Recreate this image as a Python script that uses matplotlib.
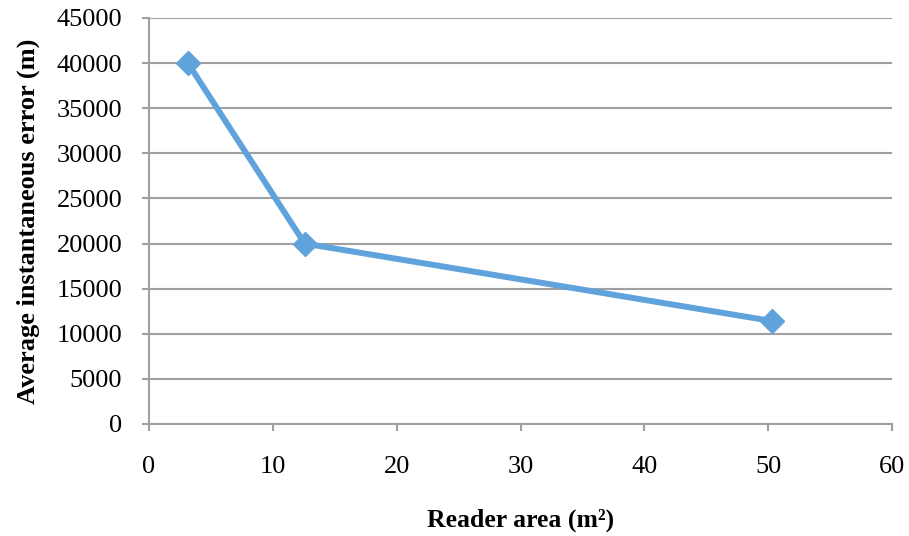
import matplotlib
matplotlib.use("Agg")
import matplotlib.pyplot as plt

# Reader area (m^2) vs average instantaneous error (m)
reader_area = [3.14, 12.57, 50.27]
avg_error = [40000, 20000, 11420]
x_ticks = [0, 10, 20, 30, 40, 50, 60]
y_ticks = [0, 5000, 10000, 15000, 20000, 25000, 30000, 35000, 40000, 45000]

plt.rcParams["font.family"] = ["Liberation Serif", "DejaVu Serif"]

fig = plt.figure(figsize=(9.09, 5.36), dpi=100)
ax = fig.add_axes([149 / 909, 1 - 424 / 536, (892 - 149) / 909, (424 - 18) / 536])

line_color = "#5FA2DC"
ax.plot(reader_area, avg_error, color=line_color, linewidth=4.3,
        marker="D", markersize=12.5, markerfacecolor=line_color,
        markeredgecolor=line_color, solid_joinstyle="miter", zorder=3)

ax.set_xlim(0, 60)
ax.set_ylim(0, 45000)
ax.set_xticks(x_ticks)
ax.set_yticks(y_ticks)

grid_color = "#A0A0A0"
ax.yaxis.grid(True, color=grid_color, linewidth=1.5)
ax.xaxis.grid(False)
ax.set_axisbelow(True)
for side in ("top", "right"):
    ax.spines[side].set_visible(False)
for side in ("left", "bottom"):
    ax.spines[side].set_color(grid_color)
    ax.spines[side].set_linewidth(1.5)

ax.tick_params(axis="both", colors=grid_color, labelcolor="black",
               labelsize=19, width=1.5, length=5)
ax.tick_params(axis="y", pad=14.3)
ax.tick_params(axis="x", pad=18)

ax.set_xlabel("Reader area (m²)", fontsize=18.5, fontweight="bold", labelpad=22)
ax.set_ylabel("Average instantaneous error (m)", fontsize=19, fontweight="bold", labelpad=11.5)

fig.savefig("out.png", dpi=100, facecolor="white")
